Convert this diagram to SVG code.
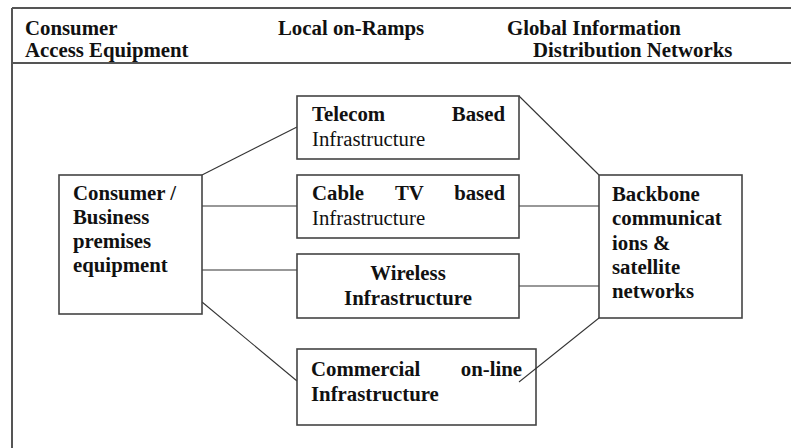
<svg xmlns="http://www.w3.org/2000/svg" width="791" height="448" viewBox="0 0 791 448">
  <style>
    .frame { stroke: #555; stroke-width: 2; fill: none; }
    .box { fill: #fff; stroke: #444; stroke-width: 1.6; }
    .link { stroke: #333; stroke-width: 1.1; fill: none; }
    text { font-family: "Liberation Serif", "Times New Roman", serif; font-size: 20.8px; fill: #111; }
    .b { font-weight: bold; }
  </style>
  <rect width="791" height="448" fill="#fff"/>

  <!-- page frame and header band -->
  <g id="frame">
    <line class="frame" x1="12" y1="8" x2="791" y2="8"/>
    <line class="frame" x1="12" y1="8" x2="12" y2="448"/>
    <line class="frame" x1="12" y1="63" x2="791" y2="63"/>
    <text class="b" x="25" y="35">Consumer</text>
    <text class="b" x="25" y="57">Access Equipment</text>
    <text class="b" x="278" y="35">Local on-Ramps</text>
    <text class="b" x="507" y="35">Global Information</text>
    <text class="b" x="533" y="57">Distribution Networks</text>
  </g>

  <!-- connectors -->
  <g id="connectors">
    <line class="link" x1="202" y1="175" x2="297" y2="127"/>
    <line class="link" x1="202" y1="206" x2="297" y2="206"/>
    <line class="link" x1="202" y1="270" x2="297" y2="270"/>
    <line class="link" x1="202" y1="302" x2="297" y2="381"/>
    <line class="link" x1="519" y1="96" x2="599" y2="175"/>
    <line class="link" x1="519" y1="206" x2="599" y2="206"/>
    <line class="link" x1="519" y1="286" x2="599" y2="286"/>
  </g>

  <g id="consumer">
    <rect class="box" x="59" y="175" width="143" height="139"/>
    <text class="b" x="73" y="200">Consumer /</text>
    <text class="b" x="73" y="224">Business</text>
    <text class="b" x="73" y="248">premises</text>
    <text class="b" x="73" y="272">equipment</text>
  </g>

  <g id="telecom">
    <rect class="box" x="297" y="96" width="222" height="63"/>
    <text class="b" x="312" y="121">Telecom</text>
    <text class="b" x="505" y="121" text-anchor="end">Based</text>
    <text x="312" y="146">Infrastructure</text>
  </g>

  <g id="cable">
    <rect class="box" x="297" y="175" width="222" height="63"/>
    <text class="b" x="312" y="200">Cable</text>
    <text class="b" x="395" y="200">TV</text>
    <text class="b" x="505" y="200" text-anchor="end">based</text>
    <text x="312" y="225">Infrastructure</text>
  </g>

  <g id="wireless">
    <rect class="box" x="297" y="254" width="222" height="64"/>
    <text class="b" x="408" y="280" text-anchor="middle">Wireless</text>
    <text class="b" x="408" y="305" text-anchor="middle">Infrastructure</text>
  </g>

  <g id="commercial">
    <rect class="box" x="297" y="349" width="239" height="76"/>
    <text class="b" x="311" y="376">Commercial</text>
    <text class="b" x="522" y="376" text-anchor="end">on-line</text>
    <text class="b" x="311" y="401">Infrastructure</text>
  </g>

  <g id="backbone">
    <rect class="box" x="599" y="175" width="143" height="143"/>
    <text class="b" x="612" y="201">Backbone</text>
    <text class="b" x="612" y="225">communicat</text>
    <text class="b" x="612" y="250">ions &amp;</text>
    <text class="b" x="612" y="274">satellite</text>
    <text class="b" x="612" y="298">networks</text>
  </g>

  <!-- backbone link that runs into the commercial box -->
  <g id="connectors-over">
    <line class="link" x1="599" y1="318" x2="519" y2="382"/>
  </g>
</svg>
